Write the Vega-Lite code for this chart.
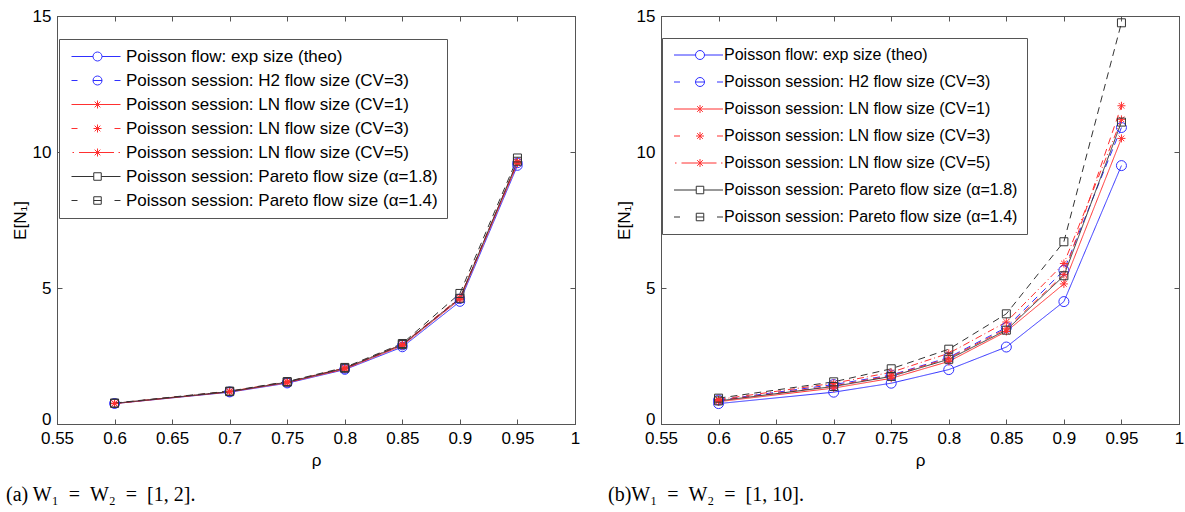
{
  "$schema": "https://vega.github.io/schema/vega-lite/v6.json",
  "padding": {"left": 5, "top": 6, "right": 0, "bottom": 0},
  "background": "white",
  "config": {
    "font": "Liberation Sans",
    "view": {"stroke": "#555555", "strokeWidth": 1},
    "axis": {
      "grid": false,
      "labelFont": "Liberation Sans",
      "labelFontSize": 17,
      "labelColor": "#000000",
      "labelFlush": false,
      "labelOverlap": false,
      "titleFont": "Liberation Sans",
      "titleFontSize": 17,
      "titleFontWeight": "normal",
      "titleColor": "#000000",
      "domainColor": "#555555",
      "tickColor": "#555555",
      "tickSize": -5,
      "labelPadding": 11
    },
    "title": {"font": "Liberation Serif", "fontSize": 20, "fontWeight": "normal", "color": "#000000"}
  },
  "datasets": {
    "left": [
      {"rho": 0.6, "value": 0.75, "series": "Poisson flow: exp size (theo)"},
      {"rho": 0.7, "value": 1.17, "series": "Poisson flow: exp size (theo)"},
      {"rho": 0.75, "value": 1.5, "series": "Poisson flow: exp size (theo)"},
      {"rho": 0.8, "value": 2.0, "series": "Poisson flow: exp size (theo)"},
      {"rho": 0.85, "value": 2.83, "series": "Poisson flow: exp size (theo)"},
      {"rho": 0.9, "value": 4.5, "series": "Poisson flow: exp size (theo)"},
      {"rho": 0.95, "value": 9.5, "series": "Poisson flow: exp size (theo)"},
      {"rho": 0.6, "value": 0.76, "series": "Poisson session: H2 flow size (CV=3)"},
      {"rho": 0.7, "value": 1.19, "series": "Poisson session: H2 flow size (CV=3)"},
      {"rho": 0.75, "value": 1.53, "series": "Poisson session: H2 flow size (CV=3)"},
      {"rho": 0.8, "value": 2.04, "series": "Poisson session: H2 flow size (CV=3)"},
      {"rho": 0.85, "value": 2.9, "series": "Poisson session: H2 flow size (CV=3)"},
      {"rho": 0.9, "value": 4.6, "series": "Poisson session: H2 flow size (CV=3)"},
      {"rho": 0.95, "value": 9.6, "series": "Poisson session: H2 flow size (CV=3)"},
      {"rho": 0.6, "value": 0.75, "series": "Poisson session: LN flow size (CV=1)"},
      {"rho": 0.7, "value": 1.18, "series": "Poisson session: LN flow size (CV=1)"},
      {"rho": 0.75, "value": 1.52, "series": "Poisson session: LN flow size (CV=1)"},
      {"rho": 0.8, "value": 2.02, "series": "Poisson session: LN flow size (CV=1)"},
      {"rho": 0.85, "value": 2.88, "series": "Poisson session: LN flow size (CV=1)"},
      {"rho": 0.9, "value": 4.58, "series": "Poisson session: LN flow size (CV=1)"},
      {"rho": 0.95, "value": 9.58, "series": "Poisson session: LN flow size (CV=1)"},
      {"rho": 0.6, "value": 0.76, "series": "Poisson session: LN flow size (CV=3)"},
      {"rho": 0.7, "value": 1.2, "series": "Poisson session: LN flow size (CV=3)"},
      {"rho": 0.75, "value": 1.54, "series": "Poisson session: LN flow size (CV=3)"},
      {"rho": 0.8, "value": 2.05, "series": "Poisson session: LN flow size (CV=3)"},
      {"rho": 0.85, "value": 2.92, "series": "Poisson session: LN flow size (CV=3)"},
      {"rho": 0.9, "value": 4.62, "series": "Poisson session: LN flow size (CV=3)"},
      {"rho": 0.95, "value": 9.65, "series": "Poisson session: LN flow size (CV=3)"},
      {"rho": 0.6, "value": 0.76, "series": "Poisson session: LN flow size (CV=5)"},
      {"rho": 0.7, "value": 1.2, "series": "Poisson session: LN flow size (CV=5)"},
      {"rho": 0.75, "value": 1.55, "series": "Poisson session: LN flow size (CV=5)"},
      {"rho": 0.8, "value": 2.06, "series": "Poisson session: LN flow size (CV=5)"},
      {"rho": 0.85, "value": 2.93, "series": "Poisson session: LN flow size (CV=5)"},
      {"rho": 0.9, "value": 4.65, "series": "Poisson session: LN flow size (CV=5)"},
      {"rho": 0.95, "value": 9.62, "series": "Poisson session: LN flow size (CV=5)"},
      {"rho": 0.6, "value": 0.76, "series": "Poisson session: Pareto flow size (α=1.8)"},
      {"rho": 0.7, "value": 1.19, "series": "Poisson session: Pareto flow size (α=1.8)"},
      {"rho": 0.75, "value": 1.54, "series": "Poisson session: Pareto flow size (α=1.8)"},
      {"rho": 0.8, "value": 2.05, "series": "Poisson session: Pareto flow size (α=1.8)"},
      {"rho": 0.85, "value": 2.92, "series": "Poisson session: Pareto flow size (α=1.8)"},
      {"rho": 0.9, "value": 4.62, "series": "Poisson session: Pareto flow size (α=1.8)"},
      {"rho": 0.95, "value": 9.66, "series": "Poisson session: Pareto flow size (α=1.8)"},
      {"rho": 0.6, "value": 0.77, "series": "Poisson session: Pareto flow size (α=1.4)"},
      {"rho": 0.7, "value": 1.21, "series": "Poisson session: Pareto flow size (α=1.4)"},
      {"rho": 0.75, "value": 1.56, "series": "Poisson session: Pareto flow size (α=1.4)"},
      {"rho": 0.8, "value": 2.08, "series": "Poisson session: Pareto flow size (α=1.4)"},
      {"rho": 0.85, "value": 2.96, "series": "Poisson session: Pareto flow size (α=1.4)"},
      {"rho": 0.9, "value": 4.8, "series": "Poisson session: Pareto flow size (α=1.4)"},
      {"rho": 0.95, "value": 9.78, "series": "Poisson session: Pareto flow size (α=1.4)"}
    ],
    "right": [
      {"rho": 0.6, "value": 0.75, "series": "Poisson flow: exp size (theo)"},
      {"rho": 0.7, "value": 1.17, "series": "Poisson flow: exp size (theo)"},
      {"rho": 0.75, "value": 1.5, "series": "Poisson flow: exp size (theo)"},
      {"rho": 0.8, "value": 2.0, "series": "Poisson flow: exp size (theo)"},
      {"rho": 0.85, "value": 2.83, "series": "Poisson flow: exp size (theo)"},
      {"rho": 0.9, "value": 4.5, "series": "Poisson flow: exp size (theo)"},
      {"rho": 0.95, "value": 9.5, "series": "Poisson flow: exp size (theo)"},
      {"rho": 0.6, "value": 0.88, "series": "Poisson session: H2 flow size (CV=3)"},
      {"rho": 0.7, "value": 1.45, "series": "Poisson session: H2 flow size (CV=3)"},
      {"rho": 0.75, "value": 1.8, "series": "Poisson session: H2 flow size (CV=3)"},
      {"rho": 0.8, "value": 2.45, "series": "Poisson session: H2 flow size (CV=3)"},
      {"rho": 0.85, "value": 3.55, "series": "Poisson session: H2 flow size (CV=3)"},
      {"rho": 0.9, "value": 5.65, "series": "Poisson session: H2 flow size (CV=3)"},
      {"rho": 0.95, "value": 10.9, "series": "Poisson session: H2 flow size (CV=3)"},
      {"rho": 0.6, "value": 0.82, "series": "Poisson session: LN flow size (CV=1)"},
      {"rho": 0.7, "value": 1.32, "series": "Poisson session: LN flow size (CV=1)"},
      {"rho": 0.75, "value": 1.68, "series": "Poisson session: LN flow size (CV=1)"},
      {"rho": 0.8, "value": 2.3, "series": "Poisson session: LN flow size (CV=1)"},
      {"rho": 0.85, "value": 3.4, "series": "Poisson session: LN flow size (CV=1)"},
      {"rho": 0.9, "value": 5.15, "series": "Poisson session: LN flow size (CV=1)"},
      {"rho": 0.95, "value": 10.5, "series": "Poisson session: LN flow size (CV=1)"},
      {"rho": 0.6, "value": 0.86, "series": "Poisson session: LN flow size (CV=3)"},
      {"rho": 0.7, "value": 1.4, "series": "Poisson session: LN flow size (CV=3)"},
      {"rho": 0.75, "value": 1.78, "series": "Poisson session: LN flow size (CV=3)"},
      {"rho": 0.8, "value": 2.42, "series": "Poisson session: LN flow size (CV=3)"},
      {"rho": 0.85, "value": 3.5, "series": "Poisson session: LN flow size (CV=3)"},
      {"rho": 0.9, "value": 5.5, "series": "Poisson session: LN flow size (CV=3)"},
      {"rho": 0.95, "value": 11.7, "series": "Poisson session: LN flow size (CV=3)"},
      {"rho": 0.6, "value": 0.9, "series": "Poisson session: LN flow size (CV=5)"},
      {"rho": 0.7, "value": 1.5, "series": "Poisson session: LN flow size (CV=5)"},
      {"rho": 0.75, "value": 1.9, "series": "Poisson session: LN flow size (CV=5)"},
      {"rho": 0.8, "value": 2.6, "series": "Poisson session: LN flow size (CV=5)"},
      {"rho": 0.85, "value": 3.75, "series": "Poisson session: LN flow size (CV=5)"},
      {"rho": 0.9, "value": 5.9, "series": "Poisson session: LN flow size (CV=5)"},
      {"rho": 0.95, "value": 11.2, "series": "Poisson session: LN flow size (CV=5)"},
      {"rho": 0.6, "value": 0.85, "series": "Poisson session: Pareto flow size (α=1.8)"},
      {"rho": 0.7, "value": 1.38, "series": "Poisson session: Pareto flow size (α=1.8)"},
      {"rho": 0.75, "value": 1.75, "series": "Poisson session: Pareto flow size (α=1.8)"},
      {"rho": 0.8, "value": 2.38, "series": "Poisson session: Pareto flow size (α=1.8)"},
      {"rho": 0.85, "value": 3.45, "series": "Poisson session: Pareto flow size (α=1.8)"},
      {"rho": 0.9, "value": 5.45, "series": "Poisson session: Pareto flow size (α=1.8)"},
      {"rho": 0.95, "value": 11.1, "series": "Poisson session: Pareto flow size (α=1.8)"},
      {"rho": 0.6, "value": 0.95, "series": "Poisson session: Pareto flow size (α=1.4)"},
      {"rho": 0.7, "value": 1.55, "series": "Poisson session: Pareto flow size (α=1.4)"},
      {"rho": 0.75, "value": 2.03, "series": "Poisson session: Pareto flow size (α=1.4)"},
      {"rho": 0.8, "value": 2.75, "series": "Poisson session: Pareto flow size (α=1.4)"},
      {"rho": 0.85, "value": 4.05, "series": "Poisson session: Pareto flow size (α=1.4)"},
      {"rho": 0.9, "value": 6.7, "series": "Poisson session: Pareto flow size (α=1.4)"},
      {"rho": 0.95, "value": 14.75, "series": "Poisson session: Pareto flow size (α=1.4)"}
    ]
  },
  "spacing": 26,
  "resolve": {
    "scale": {"x": "independent", "y": "independent", "color": "independent", "shape": "independent", "stroke": "independent", "strokeDash": "independent"},
    "legend": {"color": "independent", "shape": "independent"}
  },
  "hconcat": [
    {
      "width": 518,
      "height": 408,
      "data": {"name": "left"},
      "title": {"text": "(a) W\u2081\u2002=\u2002W\u2082\u2002=\u2002[1, 2].", "orient": "bottom", "anchor": "start", "frame": "group", "dx": -51, "offset": 17},
      "layer": [
        {
          "mark": {"type": "line", "strokeWidth": 1},
          "encoding": {
            "x": {"field": "rho", "type": "quantitative", "scale": {"domain": [0.55, 1], "nice": false, "zero": false},
                  "axis": {"orient": "bottom", "values": [0.55, 0.6, 0.65, 0.7, 0.75, 0.8, 0.85, 0.9, 0.95, 1], "format": "~g", "title": "ρ", "titlePadding": 6}},
            "y": {"field": "value", "type": "quantitative", "scale": {"domain": [0, 15], "nice": false, "zero": true},
                  "axis": {"orient": "left", "values": [0, 5, 10, 15], "title": "E[N₁]", "titlePadding": 3,
                           "labelBaseline": {"condition": {"test": "datum.value === 0", "value": "alphabetic"}, "value": "middle"}}},
            "stroke": {"field": "series", "type": "nominal", "legend": null,
                       "scale": {"range": ["#3030ff", "#3030ff", "#ff3030", "#ff3030", "#ff3030", "#333333", "#333333"]}},
            "strokeDash": {"field": "series", "type": "nominal", "legend": null,
                           "scale": {"range": [[1, 0], [7, 5], [1, 0], [7, 5], [7, 3, 1, 3], [7, 5], [1, 0]]}}
          }
        },
        {
          "transform": [{"filter": {"field": "series", "oneOf": ["Poisson flow: exp size (theo)", "Poisson session: H2 flow size (CV=3)"]}}],
          "mark": {"type": "point", "shape": "circle", "filled": false, "size": 90, "strokeWidth": 1, "opacity": 1},
          "encoding": {
            "x": {"field": "rho", "type": "quantitative", "axis": {"orient": "top", "values": [0.55, 0.6, 0.65, 0.7, 0.75, 0.8, 0.85, 0.9, 0.95, 1], "labels": false, "title": null}},
            "y": {"field": "value", "type": "quantitative", "axis": {"orient": "right", "values": [0, 5, 10, 15], "labels": false, "title": null}},
            "stroke": {"field": "series", "type": "nominal", "legend": null}
          }
        },
        {
          "transform": [{"filter": {"field": "series", "oneOf": ["Poisson session: LN flow size (CV=1)", "Poisson session: LN flow size (CV=3)", "Poisson session: LN flow size (CV=5)"]}}],
          "mark": {"type": "point", "shape": "M-1,0H1M0,-1V1M-0.7,-0.7L0.7,0.7M-0.7,0.7L0.7,-0.7", "filled": false, "size": 64, "strokeWidth": 1, "opacity": 1},
          "encoding": {
            "x": {"field": "rho", "type": "quantitative", "axis": null},
            "y": {"field": "value", "type": "quantitative", "axis": null},
            "stroke": {"field": "series", "type": "nominal", "legend": null}
          }
        },
        {
          "transform": [{"filter": {"field": "series", "oneOf": ["Poisson session: Pareto flow size (α=1.8)", "Poisson session: Pareto flow size (α=1.4)"]}}],
          "mark": {"type": "point", "shape": "square", "filled": false, "size": 64, "strokeWidth": 1, "opacity": 1},
          "encoding": {
            "x": {"field": "rho", "type": "quantitative", "axis": null},
            "y": {"field": "value", "type": "quantitative", "axis": null},
            "stroke": {"field": "series", "type": "nominal", "legend": null}
          }
        },
        {
          "mark": {"type": "point", "filled": false, "strokeWidth": 1, "opacity": 0},
          "encoding": {
            "x": {"field": "rho", "type": "quantitative", "axis": null},
            "y": {"field": "value", "type": "quantitative", "axis": null},
            "color": {"field": "series", "type": "nominal",
                      "scale": {"domain": ["Poisson flow: exp size (theo)", "Poisson session: H2 flow size (CV=3)", "Poisson session: LN flow size (CV=1)", "Poisson session: LN flow size (CV=3)", "Poisson session: LN flow size (CV=5)", "Poisson session: Pareto flow size (α=1.8)", "Poisson session: Pareto flow size (α=1.4)"],
                                "range": ["#3030ff", "#3030ff", "#ff3030", "#ff3030", "#ff3030", "#333333", "#333333"]},
                      "legend": {"orient": "none", "legendX": 2, "legendY": 23, "title": null, "labelFont": "Liberation Sans", "labelFontSize": 17, "labelColor": "#000000", "labelLimit": 500, "symbolSize": 100, "symbolStrokeWidth": 1, "labelOffset": 41, "rowPadding": 6, "padding": 9, "strokeColor": "#555555", "fillColor": "#ffffff", "symbolOpacity": 1,
                                 "encode": {"symbols": {"update": {"opacity": {"value": 1}}}}}},
            "shape": {"field": "series", "type": "nominal",
                      "scale": {"domain": ["Poisson flow: exp size (theo)", "Poisson session: H2 flow size (CV=3)", "Poisson session: LN flow size (CV=1)", "Poisson session: LN flow size (CV=3)", "Poisson session: LN flow size (CV=5)", "Poisson session: Pareto flow size (α=1.8)", "Poisson session: Pareto flow size (α=1.4)"],
                                "range": ["M-1,0H3.3M5.1,0H8.8M3.3,0A0.9,0.9,0,1,0,5.1,0A0.9,0.9,0,1,0,3.3,0",
                                          "M-1,0H0.2M7.6,0H8.8M3.3,0H5.1M3.3,0A0.9,0.9,0,1,0,5.1,0A0.9,0.9,0,1,0,3.3,0",
                                          "M-1,0H8.8M4.2,-0.8V0.8M3.63,-0.57L4.77,0.57M3.63,0.57L4.77,-0.57",
                                          "M-1,0H0.2M7.6,0H8.8M3.4,0H5M4.2,-0.8V0.8M3.63,-0.57L4.77,0.57M3.63,0.57L4.77,-0.57",
                                          "M-0.8,0H-0.5M0.5,0H7.5M8.4,0H8.7M4.2,-0.8V0.8M3.63,-0.57L4.77,0.57M3.63,0.57L4.77,-0.57",
                                          "M-1,0H3.45M4.95,0H8.8M3.45,-0.75H4.95V0.75H3.45Z",
                                          "M-1,0H0.2M7.6,0H8.8M3.45,0H4.95M3.45,-0.75H4.95V0.75H3.45Z"]},
                      "legend": {"orient": "none", "legendX": 2, "legendY": 23, "title": null, "labelFont": "Liberation Sans", "labelFontSize": 17, "labelColor": "#000000", "labelLimit": 500, "symbolSize": 100, "symbolStrokeWidth": 1, "labelOffset": 41, "rowPadding": 6, "padding": 9, "strokeColor": "#555555", "fillColor": "#ffffff", "symbolOpacity": 1,
                                 "encode": {"symbols": {"update": {"opacity": {"value": 1}}}}}}
          }
        }
      ]
    },
    {
      "width": 518,
      "height": 408,
      "data": {"name": "right"},
      "title": {"text": "(b)W\u2081\u2002=\u2002W\u2082\u2002=\u2002[1, 10].", "orient": "bottom", "anchor": "start", "frame": "group", "dx": -53, "offset": 17},
      "layer": [
        {
          "mark": {"type": "line", "strokeWidth": 1},
          "encoding": {
            "x": {"field": "rho", "type": "quantitative", "scale": {"domain": [0.55, 1], "nice": false, "zero": false},
                  "axis": {"orient": "bottom", "values": [0.55, 0.6, 0.65, 0.7, 0.75, 0.8, 0.85, 0.9, 0.95, 1], "format": "~g", "title": "ρ", "titlePadding": 6}},
            "y": {"field": "value", "type": "quantitative", "scale": {"domain": [0, 15], "nice": false, "zero": true},
                  "axis": {"orient": "left", "values": [0, 5, 10, 15], "title": "E[N₁]", "titlePadding": 3,
                           "labelBaseline": {"condition": {"test": "datum.value === 0", "value": "alphabetic"}, "value": "middle"}}},
            "stroke": {"field": "series", "type": "nominal", "legend": null,
                       "scale": {"range": ["#3030ff", "#3030ff", "#ff3030", "#ff3030", "#ff3030", "#333333", "#333333"]}},
            "strokeDash": {"field": "series", "type": "nominal", "legend": null,
                           "scale": {"range": [[1, 0], [7, 5], [1, 0], [7, 5], [7, 3, 1, 3], [7, 5], [1, 0]]}}
          }
        },
        {
          "transform": [{"filter": {"field": "series", "oneOf": ["Poisson flow: exp size (theo)", "Poisson session: H2 flow size (CV=3)"]}}],
          "mark": {"type": "point", "shape": "circle", "filled": false, "size": 100, "strokeWidth": 1, "opacity": 1},
          "encoding": {
            "x": {"field": "rho", "type": "quantitative", "axis": {"orient": "top", "values": [0.55, 0.6, 0.65, 0.7, 0.75, 0.8, 0.85, 0.9, 0.95, 1], "labels": false, "title": null}},
            "y": {"field": "value", "type": "quantitative", "axis": {"orient": "right", "values": [0, 5, 10, 15], "labels": false, "title": null}},
            "stroke": {"field": "series", "type": "nominal", "legend": null}
          }
        },
        {
          "transform": [{"filter": {"field": "series", "oneOf": ["Poisson session: LN flow size (CV=1)", "Poisson session: LN flow size (CV=3)", "Poisson session: LN flow size (CV=5)"]}}],
          "mark": {"type": "point", "shape": "M-1,0H1M0,-1V1M-0.7,-0.7L0.7,0.7M-0.7,0.7L0.7,-0.7", "filled": false, "size": 64, "strokeWidth": 1, "opacity": 1},
          "encoding": {
            "x": {"field": "rho", "type": "quantitative", "axis": null},
            "y": {"field": "value", "type": "quantitative", "axis": null},
            "stroke": {"field": "series", "type": "nominal", "legend": null}
          }
        },
        {
          "transform": [{"filter": {"field": "series", "oneOf": ["Poisson session: Pareto flow size (α=1.8)", "Poisson session: Pareto flow size (α=1.4)"]}}],
          "mark": {"type": "point", "shape": "square", "filled": false, "size": 64, "strokeWidth": 1, "opacity": 1},
          "encoding": {
            "x": {"field": "rho", "type": "quantitative", "axis": null},
            "y": {"field": "value", "type": "quantitative", "axis": null},
            "stroke": {"field": "series", "type": "nominal", "legend": null}
          }
        },
        {
          "mark": {"type": "point", "filled": false, "strokeWidth": 1, "opacity": 0},
          "encoding": {
            "x": {"field": "rho", "type": "quantitative", "axis": null},
            "y": {"field": "value", "type": "quantitative", "axis": null},
            "color": {"field": "series", "type": "nominal",
                      "scale": {"domain": ["Poisson flow: exp size (theo)", "Poisson session: H2 flow size (CV=3)", "Poisson session: LN flow size (CV=1)", "Poisson session: LN flow size (CV=3)", "Poisson session: LN flow size (CV=5)", "Poisson session: Pareto flow size (α=1.8)", "Poisson session: Pareto flow size (α=1.4)"],
                                "range": ["#3030ff", "#3030ff", "#ff3030", "#ff3030", "#ff3030", "#333333", "#333333"]},
                      "legend": {"orient": "none", "legendX": 1, "legendY": 22, "title": null, "labelFont": "Liberation Sans", "labelFontSize": 16, "labelColor": "#000000", "labelLimit": 500, "symbolSize": 100, "symbolStrokeWidth": 1, "labelOffset": 37, "rowPadding": 11, "padding": 9, "strokeColor": "#555555", "fillColor": "#ffffff", "symbolOpacity": 1,
                                 "encode": {"symbols": {"update": {"opacity": {"value": 1}}}}}},
            "shape": {"field": "series", "type": "nominal",
                      "scale": {"domain": ["Poisson flow: exp size (theo)", "Poisson session: H2 flow size (CV=3)", "Poisson session: LN flow size (CV=1)", "Poisson session: LN flow size (CV=3)", "Poisson session: LN flow size (CV=5)", "Poisson session: Pareto flow size (α=1.8)", "Poisson session: Pareto flow size (α=1.4)"],
                                "range": ["M-1,0H3.3M5.1,0H8.8M3.3,0A0.9,0.9,0,1,0,5.1,0A0.9,0.9,0,1,0,3.3,0",
                                          "M-1,0H0.2M7.6,0H8.8M3.3,0H5.1M3.3,0A0.9,0.9,0,1,0,5.1,0A0.9,0.9,0,1,0,3.3,0",
                                          "M-1,0H8.8M4.2,-0.8V0.8M3.63,-0.57L4.77,0.57M3.63,0.57L4.77,-0.57",
                                          "M-1,0H0.2M7.6,0H8.8M3.4,0H5M4.2,-0.8V0.8M3.63,-0.57L4.77,0.57M3.63,0.57L4.77,-0.57",
                                          "M-0.8,0H-0.5M0.5,0H7.5M8.4,0H8.7M4.2,-0.8V0.8M3.63,-0.57L4.77,0.57M3.63,0.57L4.77,-0.57",
                                          "M-1,0H3.45M4.95,0H8.8M3.45,-0.75H4.95V0.75H3.45Z",
                                          "M-1,0H0.2M7.6,0H8.8M3.45,0H4.95M3.45,-0.75H4.95V0.75H3.45Z"]},
                      "legend": {"orient": "none", "legendX": 1, "legendY": 22, "title": null, "labelFont": "Liberation Sans", "labelFontSize": 16, "labelColor": "#000000", "labelLimit": 500, "symbolSize": 100, "symbolStrokeWidth": 1, "labelOffset": 37, "rowPadding": 11, "padding": 9, "strokeColor": "#555555", "fillColor": "#ffffff", "symbolOpacity": 1,
                                 "encode": {"symbols": {"update": {"opacity": {"value": 1}}}}}}
          }
        }
      ]
    }
  ]
}
